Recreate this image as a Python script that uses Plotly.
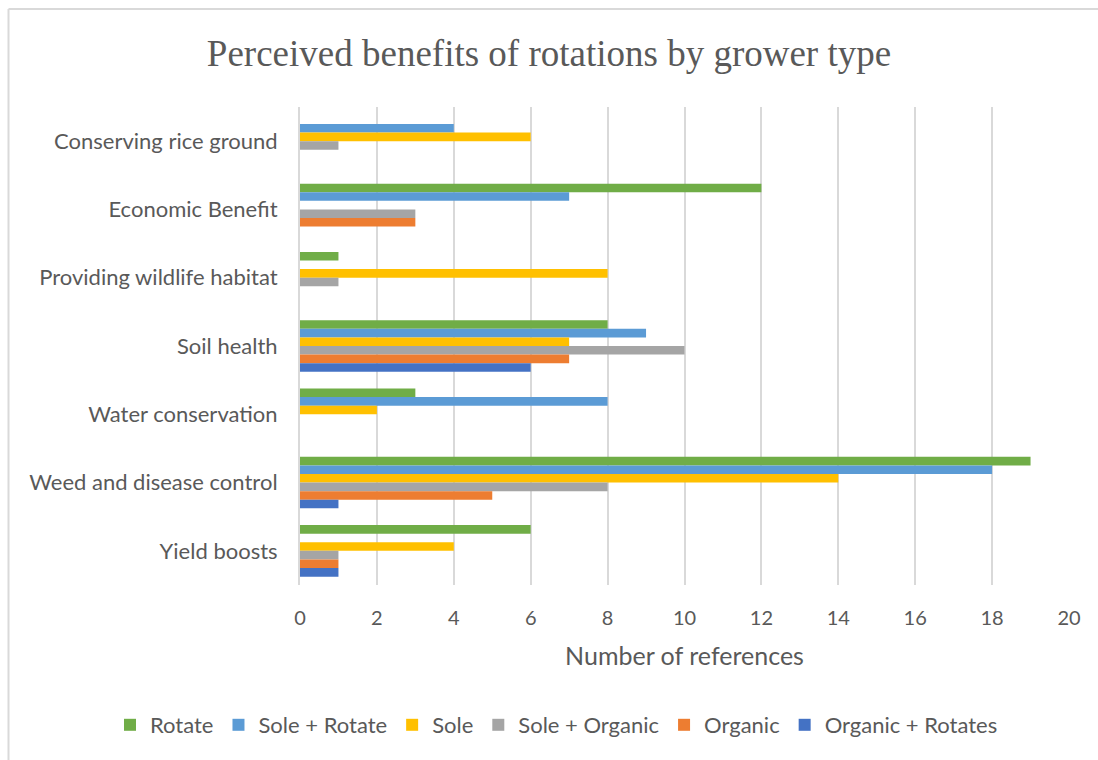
import plotly.graph_objects as go

# Benefit categories, listed top to bottom as they appear on the chart
categories = [
    "Conserving rice ground",
    "Economic Benefit",
    "Providing wildlife habitat",
    "Soil health",
    "Water conservation",
    "Weed and disease control",
    "Yield boosts",
]

# Number of references per grower type (same order as categories)
rotate = [0, 12, 1, 8, 3, 19, 6]
sole_rotate = [4, 7, 0, 9, 8, 18, 0]
sole = [6, 0, 8, 7, 2, 14, 4]
sole_organic = [1, 3, 1, 10, 0, 8, 1]
organic = [0, 3, 0, 7, 0, 5, 1]
organic_rotates = [0, 0, 0, 6, 0, 1, 1]

series_names = ["Rotate", "Sole + Rotate", "Sole", "Sole + Organic", "Organic", "Organic + Rotates"]
series_values = [rotate, sole_rotate, sole, sole_organic, organic, organic_rotates]
series_colors = ["#70AD47", "#5B9BD5", "#FFC000", "#A5A5A5", "#ED7D31", "#4472C4"]

x_ticks = list(range(0, 21, 2))

TEXT = "#595959"
GRID = "#D9D9D9"
FONT = "Lato, 'Open Sans', sans-serif"

fig = go.Figure()
for name, vals, col in zip(series_names, series_values, series_colors):
    fig.add_trace(go.Bar(
        y=categories, x=vals, name=name, orientation="h",
        marker=dict(color=col, line=dict(width=0)),
    ))

# Plot area occupies pixels x 300..1069, y 107..585 of the 1098x760 page
L, R, T, B = 300, 29, 107, 175
W, H = 1098, 760
pw, ph = W - L - R, H - T - B

def px_to_paper_x(px):
    return (px - L) / pw

def px_to_paper_y(py):
    return (H - B - py) / ph

fig.update_layout(
    width=W, height=H,
    margin=dict(l=L, r=R, t=T, b=B, pad=0),
    paper_bgcolor="white", plot_bgcolor="white",
    barmode="group", bargap=0.245, bargroupgap=0,
    font=dict(family=FONT, color=TEXT, size=20),
    title=dict(
        text="Perceived benefits of rotations by grower type",
        font=dict(family="'Liberation Serif', 'Times New Roman', serif", size=37, color=TEXT),
        x=px_to_paper_x(549), xref="paper", xanchor="center",
        y=1 - 53 / H, yref="container", yanchor="middle",
    ),
    xaxis=dict(
        range=[0, 20], tickmode="array", tickvals=x_ticks,
        showgrid=True, gridcolor=GRID, gridwidth=2,
        zeroline=False, showline=False, ticks="",
        ticklabelstandoff=19,
        tickfont=dict(size=20, color=TEXT),
        title=dict(text="Number of references", font=dict(size=25, color=TEXT), standoff=19),
    ),
    yaxis=dict(
        autorange="reversed", showgrid=False, zeroline=False,
        showline=True, linecolor=GRID, linewidth=2,
        ticks="", ticklabelstandoff=16,
        tickfont=dict(size=22, color=TEXT),
    ),
    legend=dict(
        orientation="h", x=px_to_paper_x(110), xanchor="left",
        y=px_to_paper_y(725), yanchor="middle",
        font=dict(size=22, color=TEXT), itemwidth=30,
        traceorder="normal", itemclick=False,
    ),
    shapes=[
        dict(type="line", xref="paper", yref="paper",
             x0=px_to_paper_x(8.5), x1=px_to_paper_x(1110),
             y0=px_to_paper_y(9), y1=px_to_paper_y(9),
             line=dict(color=GRID, width=2)),
        dict(type="line", xref="paper", yref="paper",
             x0=px_to_paper_x(8.5), x1=px_to_paper_x(8.5),
             y0=px_to_paper_y(9), y1=px_to_paper_y(770),
             line=dict(color=GRID, width=2)),
    ],
)

fig.write_html("out.html")
